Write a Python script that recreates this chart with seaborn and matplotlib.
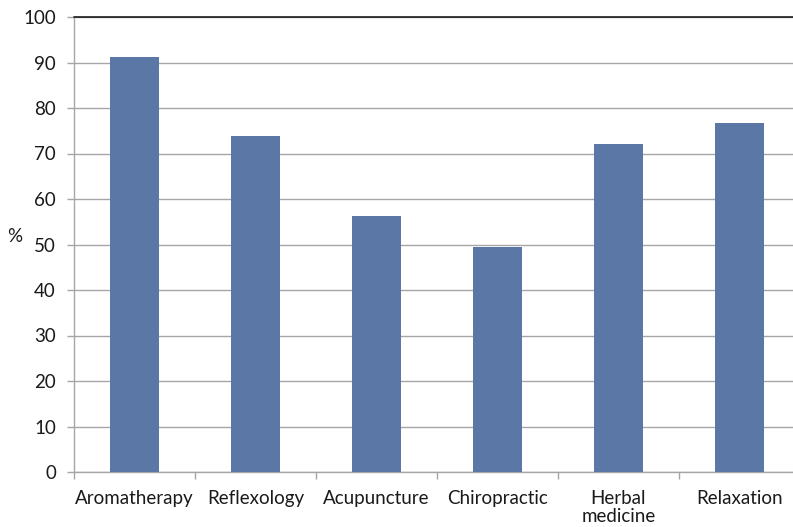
import matplotlib
matplotlib.use("Agg")
import matplotlib.pyplot as plt
from matplotlib.ticker import FixedLocator
import seaborn as sns
import pandas as pd
import numpy as np

categories = ["Aromatherapy", "Reflexology", "Acupuncture", "Chiropractic",
              "Herbal\nmedicine", "Relaxation"]
percent = [91.2, 73.8, 56.3, 49.5, 72.1, 76.7]
y_ticks = [0, 10, 20, 30, 40, 50, 60, 70, 80, 90, 100]

sns.set_theme(style="white")
plt.rcParams["font.family"] = ["Lato", "DejaVu Sans"]

df = pd.DataFrame({"therapy": categories, "pct": percent})

fig = plt.figure(figsize=(7.93, 5.27), dpi=100)
ax = fig.add_axes([74 / 793, 55 / 527, 726 / 793, 455 / 527])

sns.barplot(data=df, x="therapy", y="pct", color="#5B77A5", width=0.4,
            saturation=1, linewidth=0, ax=ax, zorder=3)

ax.set_ylim(0, 100)
ax.set_xlim(-0.5, len(categories) - 0.5)
ax.set_yticks(y_ticks)
ax.yaxis.grid(True, color="#a6a6a6", linewidth=1, zorder=0)
ax.axhline(100, color="#1a1a1a", linewidth=1.2, zorder=4, clip_on=False)

for side in ["top", "right"]:
    ax.spines[side].set_visible(False)
for side in ["left", "bottom"]:
    ax.spines[side].set_color("#a6a6a6")
    ax.spines[side].set_linewidth(1)

ax.tick_params(axis="y", which="major", direction="out", length=5, width=1,
               color="#a6a6a6", labelsize=13.5, labelcolor="#1a1a1a", pad=8, left=True)
ax.tick_params(axis="x", which="major", length=0, labelsize=13.5,
               labelcolor="#1a1a1a", pad=13)
ax.xaxis.set_minor_locator(FixedLocator(np.arange(-0.5, len(categories), 1.0)))
ax.tick_params(axis="x", which="minor", direction="out", length=5, width=1,
               color="#a6a6a6", bottom=True)
for lbl in ax.get_xticklabels():
    lbl.set_linespacing(1.1)
    lbl.set_verticalalignment("top")

ax.set_xlabel("")
ax.set_ylabel("%", rotation=0, fontsize=13.5, color="#1a1a1a")
ax.yaxis.set_label_coords(-74 / 726 + 15 / 726, 0.5)

fig.savefig("out.png", dpi=100)
